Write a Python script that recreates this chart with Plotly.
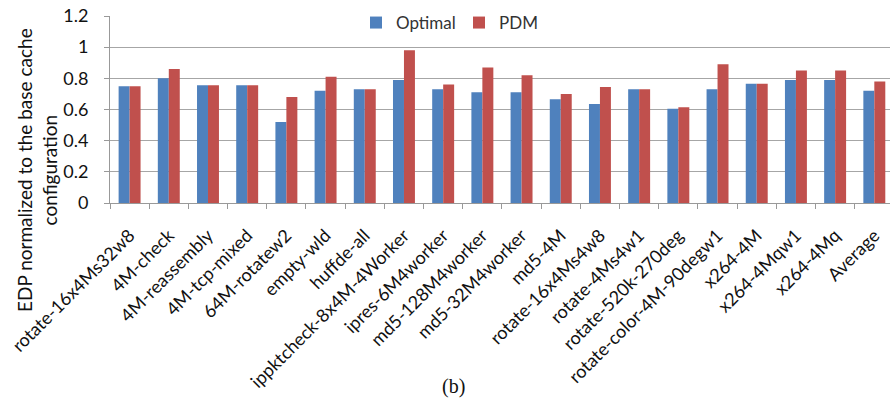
import plotly.graph_objects as go

categories = [
    "rotate-16x4Ms32w8", "4M-check", "4M-reassembly", "4M-tcp-mixed",
    "64M-rotatew2", "empty-wld", "huffde-all", "ippktcheck-8x4M-4Worker",
    "ipres-6M4worker", "md5-128M4worker", "md5-32M4worker", "md5-4M",
    "rotate-16x4Ms4w8", "rotate-4Ms4w1", "rotate-520k-270deg",
    "rotate-color-4M-90degw1", "x264-4M", "x264-4Mqw1", "x264-4Mq", "Average",
]
optimal = [0.75, 0.80, 0.755, 0.755, 0.52, 0.72, 0.73, 0.79, 0.73, 0.71,
           0.71, 0.665, 0.635, 0.73, 0.605, 0.73, 0.765, 0.79, 0.79, 0.72]
pdm = [0.75, 0.86, 0.755, 0.755, 0.68, 0.81, 0.73, 0.98, 0.76, 0.87,
       0.82, 0.70, 0.745, 0.73, 0.615, 0.89, 0.765, 0.85, 0.85, 0.78]
y_ticks = [0, 0.2, 0.4, 0.6, 0.8, 1.0, 1.2]
y_tick_text = ["0", "0.2", "0.4", "0.6", "0.8", "1", "1.2"]

BLUE = "#4F81BD"
RED = "#C0504D"
FONT = "Lato, 'Open Sans', sans-serif"
INK = "#111111"

fig = go.Figure()
fig.add_trace(go.Bar(x=categories, y=optimal, name="Optimal",
                     marker=dict(color=BLUE, line=dict(width=0))))
fig.add_trace(go.Bar(x=categories, y=pdm, name="PDM",
                     marker=dict(color=RED, line=dict(width=0))))

W, H = 890, 401
top, bottom, left = 16, 198, 110
plot_h = H - top - bottom
plot_w = W - left


def px_x(px):
    return (px - left) / plot_w


def px_y(px):
    return (H - bottom - px) / plot_h


fig.update_layout(
    width=W, height=H,
    margin=dict(l=left, r=0, t=top, b=bottom),
    paper_bgcolor="white", plot_bgcolor="white",
    barmode="group", bargap=0.44, bargroupgap=0,
    font=dict(family=FONT, color=INK),
    showlegend=True,
    legend=dict(orientation="h", x=px_x(356), y=px_y(23),
                xanchor="left", yanchor="middle",
                font=dict(size=17, color="#333333"), bgcolor="rgba(0,0,0,0)",
                itemwidth=30, entrywidth=58),
    xaxis=dict(
        range=[-0.5, 19.4], tickangle=-45, tickson="boundaries",
        ticks="outside", ticklen=5, tickcolor="#999999",
        showline=True, linecolor="#999999", linewidth=1,
        tickfont=dict(size=18, color=INK), showgrid=False,
        ticklabelstandoff=14,
    ),
    yaxis=dict(
        range=[0, 1.2], tickvals=y_ticks, ticktext=y_tick_text,
        ticks="outside", ticklen=5, tickcolor="#999999",
        showline=True, linecolor="#999999", linewidth=1,
        showgrid=True, gridcolor="#A6A6A6", gridwidth=1,
        tickfont=dict(size=18, color=INK), zeroline=False,
        ticklabelstandoff=12,
    ),
    annotations=[
        dict(text="EDP normalized to the base cache<br>configuration",
             xref="paper", yref="paper", x=px_x(37), y=px_y(170),
             xanchor="center", yanchor="middle", textangle=-90, showarrow=False,
             font=dict(size=19, family=FONT, color=INK)),
        dict(text="(b)", xref="paper", yref="paper",
             x=px_x(453), y=px_y(386),
             xanchor="center", yanchor="middle", showarrow=False,
             font=dict(size=20, family="Liberation Serif, serif", color=INK)),
    ],
)

fig.write_html("out.html")
